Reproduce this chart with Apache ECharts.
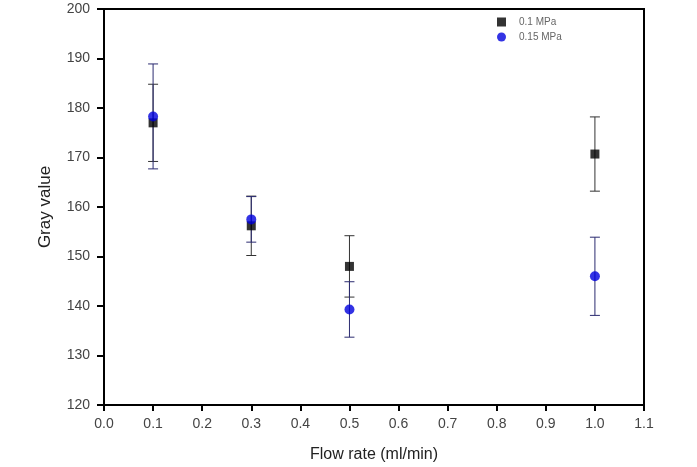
<!DOCTYPE html>
<html>
<head>
<meta charset="utf-8">
<script src="https://cdn.jsdelivr.net/npm/echarts@6/dist/echarts.min.js"></script>
<style>
  html, body { margin: 0; padding: 0; background: #fff; }
  #chart { width: 697px; height: 467px; }
</style>
</head>
<body>
<div id="chart"></div>
<script>
// flow rate (ml/min)
var flowRates = [0.1, 0.3, 0.5, 1.0];
// 0.1 MPa
var mpa01 = [177.0, 156.2, 148.0, 170.7];
var mpa01Err = [7.8, 6.0, 6.2, 7.5];
// 0.15 MPa
var mpa015 = [178.3, 157.5, 139.3, 146.0];
var mpa015Err = [10.6, 4.6, 5.6, 7.9];

var chart = echarts.init(document.getElementById("chart"));

function points(ys) {
  return flowRates.map(function (x, i) { return [x, ys[i]]; });
}
function errRows(ys, errs) {
  return flowRates.map(function (x, i) { return [x, ys[i] - errs[i], ys[i] + errs[i]]; });
}
// error bars: vertical line + caps
function errSeries(ys, errs, color) {
  return {
    type: "custom",
    data: errRows(ys, errs),
    encode: { x: 0, y: [1, 2] },
    silent: true,
    z: 2,
    renderItem: function (params, api) {
      var lo = api.coord([api.value(0), api.value(1)]);
      var hi = api.coord([api.value(0), api.value(2)]);
      var w = 5;
      var st = { stroke: color, lineWidth: 1 };
      return {
        type: "group",
        children: [
          { type: "line", shape: { x1: lo[0], y1: lo[1], x2: hi[0], y2: hi[1] }, style: st },
          { type: "line", shape: { x1: lo[0] - w, y1: lo[1], x2: lo[0] + w, y2: lo[1] }, style: st },
          { type: "line", shape: { x1: hi[0] - w, y1: hi[1], x2: hi[0] + w, y2: hi[1] }, style: st }
        ]
      };
    }
  };
}

chart.setOption({
  animation: false,
  textStyle: { fontFamily: "Liberation Sans, Arial, sans-serif" },
  grid: {
    left: 104, right: 53, top: 9, bottom: 62,
    outerBoundsMode: "none",
    show: true, borderColor: "#000", borderWidth: 2
  },
  legend: {
    data: ["0.1 MPa", "0.15 MPa"],
    orient: "vertical",
    left: 492, top: 12,
    itemWidth: 9, itemHeight: 9, itemGap: 5,
    textStyle: { fontSize: 10, color: "#666", padding: [0, 0, 0, 8] }
  },
  xAxis: {
    type: "value",
    min: 0, max: 1.1, interval: 0.1,
    name: "Flow rate (ml/min)",
    nameLocation: "middle",
    nameGap: 42,
    nameTextStyle: { fontSize: 16, color: "#222" },
    axisLine: { lineStyle: { color: "#000", width: 2 } },
    axisTick: { show: true, length: 6, lineStyle: { color: "#000", width: 2 } },
    axisLabel: {
      fontSize: 14, color: "#444", margin: 12,
      formatter: function (v) { return v.toFixed(1); }
    },
    splitLine: { show: false }
  },
  yAxis: {
    type: "value",
    min: 120, max: 200, interval: 10,
    name: "Gray value",
    nameLocation: "middle",
    nameGap: 50,
    nameTextStyle: { fontSize: 17, color: "#222" },
    axisLine: { lineStyle: { color: "#000", width: 2 } },
    axisTick: { show: true, length: 7, lineStyle: { color: "#000", width: 2 } },
    axisLabel: { fontSize: 14, color: "#444", margin: 14 },
    splitLine: { show: false }
  },
  series: [
    errSeries(mpa01, mpa01Err, "#333"),
    {
      name: "0.1 MPa",
      type: "scatter",
      symbol: "rect",
      symbolSize: 9,
      itemStyle: { color: "#000" },
      data: points(mpa01),
      z: 3
    },
    errSeries(mpa015, mpa015Err, "#2b2b70"),
    {
      name: "0.15 MPa",
      type: "scatter",
      symbol: "circle",
      symbolSize: 10,
      itemStyle: { color: "#0000dd" },
      data: points(mpa015),
      z: 4
    }
  ]
});
</script>
</body>
</html>
